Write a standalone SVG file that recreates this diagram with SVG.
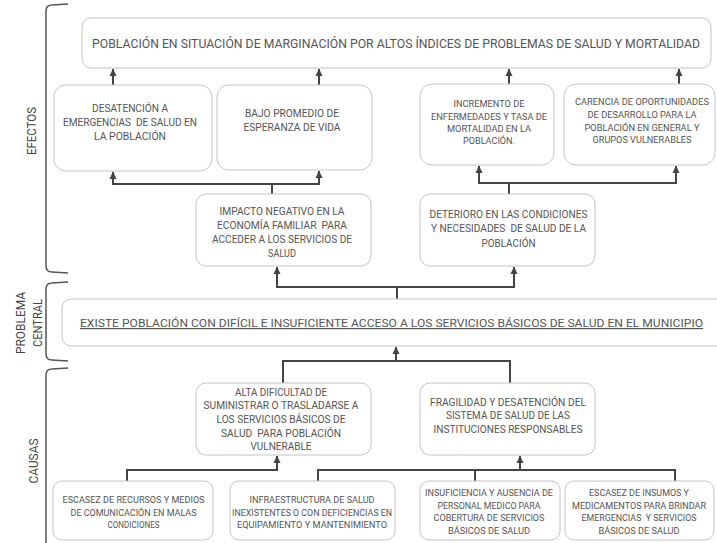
<svg xmlns="http://www.w3.org/2000/svg" width="717" height="543" viewBox="0 0 717 543">
<style>
.box{fill:#fff;stroke:#c4c4c4;stroke-width:1}
.t{font-family:Roboto,"Liberation Sans",sans-serif;font-weight:400;fill:#555;text-anchor:middle;font-size:10.3px}
.s{font-size:9.8px}
.big{font-size:12.2px}
.lab{font-family:Roboto,"Liberation Sans",sans-serif;font-weight:400;fill:#444;text-anchor:middle;font-size:12.5px}
.br{fill:none;stroke:#555;stroke-width:1.5}
.con{fill:none;stroke:#444;stroke-width:2}
.arr{fill:none;stroke:#444;stroke-width:2;marker-end:url(#ah)}
</style>
<defs>
<marker id="ah" markerUnits="userSpaceOnUse" markerWidth="8" markerHeight="8" refX="7" refY="4" orient="auto">
<path d="M0,0.5 L7.5,4 L0,7.5 z" fill="#444"/>
</marker>
</defs>
<rect width="717" height="543" fill="#fff"/>

<g id="brackets">
<path class="br" d="M68 4 L52 5 Q46 5 46 11 L46 266 Q46 272 52 272 L68 273"/>
<path class="br" d="M68 282 L52 283 Q46 283 46 289 L46 354 Q46 360 52 360 L68 361"/>
<path class="br" d="M68 368 L52 369 Q46 369 46 375 L46 545"/>
<text class="lab" transform="translate(36,131) rotate(-90)" textLength="48" lengthAdjust="spacingAndGlyphs">EFECTOS</text>
<text class="lab" transform="translate(25,323) rotate(-90)" textLength="62" lengthAdjust="spacingAndGlyphs">PROBLEMA</text>
<text class="lab" transform="translate(42,323) rotate(-90)" textLength="48" lengthAdjust="spacingAndGlyphs">CENTRAL</text>
<text class="lab" transform="translate(38,461) rotate(-90)" textLength="45" lengthAdjust="spacingAndGlyphs">CAUSAS</text>
</g>

<g id="connectors">
<path class="arr" d="M113 85 V69"/>
<path class="arr" d="M319 85 V69"/>
<path class="arr" d="M509 84 V69"/>
<path class="arr" d="M679 84 V69"/>
<path class="con" d="M272 194 V184 M113 184 H319"/>
<path class="arr" d="M113 185 V172"/>
<path class="arr" d="M319 185 V171"/>
<path class="con" d="M509 194 V183 M479 183 H676"/>
<path class="arr" d="M479 184 V166"/>
<path class="arr" d="M676 184 V166"/>
<path class="con" d="M397 299 V287 M277 287 H514"/>
<path class="arr" d="M277 288 V267"/>
<path class="arr" d="M514 288 V267"/>
<path class="con" d="M283 383 V361 H510 V383"/>
<path class="arr" d="M396 361 V347"/>
<path class="con" d="M127 481 V470 H277"/>
<path class="arr" d="M277 471 V456"/>
<path class="con" d="M318 481 V470 H675 V481 M475 470 V481"/>
<path class="arr" d="M520 471 V456"/>
</g>

<g id="n-top">
<rect class="box" x="82" y="18" width="629" height="50" rx="9"/>
<text class="t big" x="396" y="48" textLength="608" lengthAdjust="spacingAndGlyphs">POBLACIÓN EN SITUACIÓN DE MARGINACIÓN POR ALTOS ÍNDICES DE PROBLEMAS DE SALUD Y MORTALIDAD</text>
</g>

<g id="n-desatencion">
<rect class="box" x="54" y="85" width="158" height="86" rx="12"/>
<text class="t" xml:space="preserve"><tspan x="130" y="112" textLength="76" lengthAdjust="spacingAndGlyphs">DESATENCIÓN A</tspan><tspan x="130" y="126" textLength="134" lengthAdjust="spacingAndGlyphs">EMERGENCIAS  DE SALUD EN</tspan><tspan x="130" y="140" textLength="72" lengthAdjust="spacingAndGlyphs">LA POBLACIÓN</tspan></text>
</g>

<g id="n-bajo">
<rect class="box" x="217" y="85" width="155" height="85" rx="12"/>
<text class="t"><tspan x="292" y="117" textLength="94" lengthAdjust="spacingAndGlyphs">BAJO PROMEDIO DE</tspan><tspan x="292" y="131" textLength="97" lengthAdjust="spacingAndGlyphs">ESPERANZA DE VIDA</tspan></text>
</g>

<g id="n-incremento">
<rect class="box" x="420" y="84" width="134" height="81" rx="12"/>
<text class="t s"><tspan x="489" y="107" textLength="71" lengthAdjust="spacingAndGlyphs">INCREMENTO DE</tspan><tspan x="489" y="120" textLength="116" lengthAdjust="spacingAndGlyphs">ENFERMEDADES Y TASA DE</tspan><tspan x="489" y="132" textLength="84" lengthAdjust="spacingAndGlyphs">MORTALIDAD EN LA</tspan><tspan x="489" y="144" textLength="52" lengthAdjust="spacingAndGlyphs">POBLACIÓN.</tspan></text>
</g>

<g id="n-carencia">
<rect class="box" x="564" y="84" width="151" height="81" rx="12"/>
<text class="t s"><tspan x="642" y="105" textLength="134" lengthAdjust="spacingAndGlyphs">CARENCIA DE OPORTUNIDADES</tspan><tspan x="642" y="118" textLength="109" lengthAdjust="spacingAndGlyphs">DE DESARROLLO PARA LA</tspan><tspan x="642" y="131" textLength="115" lengthAdjust="spacingAndGlyphs">POBLACIÓN EN GENERAL Y</tspan><tspan x="642" y="143" textLength="99" lengthAdjust="spacingAndGlyphs">GRUPOS VULNERABLES</tspan></text>
</g>

<g id="n-impacto">
<rect class="box" x="196" y="194" width="175" height="72" rx="10"/>
<text class="t" xml:space="preserve"><tspan x="282" y="215" textLength="125" lengthAdjust="spacingAndGlyphs">IMPACTO NEGATIVO EN LA</tspan><tspan x="282" y="229" textLength="130" lengthAdjust="spacingAndGlyphs">ECONOMÍA FAMILIAR  PARA</tspan><tspan x="282" y="243" textLength="140" lengthAdjust="spacingAndGlyphs">ACCEDER A LOS SERVICIOS DE</tspan><tspan x="282" y="257" textLength="28" lengthAdjust="spacingAndGlyphs">SALUD</tspan></text>
</g>

<g id="n-deterioro">
<rect class="box" x="420" y="194" width="175" height="72" rx="10"/>
<text class="t" xml:space="preserve"><tspan x="508.5" y="218" textLength="158" lengthAdjust="spacingAndGlyphs">DETERIORO EN LAS CONDICIONES</tspan><tspan x="508.5" y="232" textLength="155" lengthAdjust="spacingAndGlyphs">Y NECESIDADES  DE SALUD DE LA</tspan><tspan x="508.5" y="247" textLength="54" lengthAdjust="spacingAndGlyphs">POBLACIÓN</tspan></text>
</g>

<g id="n-central">
<path class="box" d="M717 299 H72 Q62 299 62 309 V336 Q62 346 72 346 H717"/>
<text class="t" x="391.5" y="327" style="font-size:11.8px;text-decoration:underline" textLength="623" lengthAdjust="spacingAndGlyphs">EXISTE POBLACIÓN CON DIFÍCIL E INSUFICIENTE ACCESO A LOS SERVICIOS BÁSICOS DE SALUD EN EL MUNICIPIO</text>
</g>

<g id="n-alta">
<rect class="box" x="196" y="383" width="175" height="72" rx="10"/>
<text class="t" xml:space="preserve"><tspan x="281" y="396" textLength="92" lengthAdjust="spacingAndGlyphs">ALTA DIFICULTAD DE</tspan><tspan x="281" y="409" textLength="155" lengthAdjust="spacingAndGlyphs">SUMINISTRAR O TRASLADARSE A</tspan><tspan x="281" y="423" textLength="129" lengthAdjust="spacingAndGlyphs">LOS SERVICIOS BÁSICOS DE</tspan><tspan x="281" y="437" textLength="120" lengthAdjust="spacingAndGlyphs">SALUD  PARA POBLACIÓN</tspan><tspan x="281" y="450" textLength="61" lengthAdjust="spacingAndGlyphs">VULNERABLE</tspan></text>
</g>

<g id="n-fragilidad">
<rect class="box" x="420" y="383" width="175" height="72" rx="10"/>
<text class="t"><tspan x="508" y="406" textLength="156" lengthAdjust="spacingAndGlyphs">FRAGILIDAD Y DESATENCIÓN DEL</tspan><tspan x="508" y="419" textLength="124" lengthAdjust="spacingAndGlyphs">SISTEMA DE SALUD DE LAS</tspan><tspan x="508" y="433" textLength="149" lengthAdjust="spacingAndGlyphs">INSTITUCIONES RESPONSABLES</tspan></text>
</g>

<g id="n-escasez-recursos">
<rect class="box" x="53" y="481" width="160" height="59" rx="9"/>
<text class="t s"><tspan x="133.5" y="503" textLength="142" lengthAdjust="spacingAndGlyphs">ESCASEZ DE RECURSOS Y MEDIOS</tspan><tspan x="133.5" y="516" textLength="126" lengthAdjust="spacingAndGlyphs">DE COMUNICACIÓN EN MALAS</tspan><tspan x="133.5" y="528" textLength="52" lengthAdjust="spacingAndGlyphs">CONDICIONES</tspan></text>
</g>

<g id="n-infraestructura">
<rect class="box" x="230" y="481" width="165" height="59" rx="9"/>
<text class="t s"><tspan x="312" y="503" textLength="125" lengthAdjust="spacingAndGlyphs">INFRAESTRUCTURA DE SALUD</tspan><tspan x="312" y="516" textLength="160" lengthAdjust="spacingAndGlyphs">INEXISTENTES O CON DEFICIENCIAS EN</tspan><tspan x="312" y="528" textLength="150" lengthAdjust="spacingAndGlyphs">EQUIPAMIENTO Y MANTENIMIENTO</tspan></text>
</g>

<g id="n-insuficiencia">
<rect class="box" x="420" y="481" width="140" height="59" rx="9"/>
<text class="t s"><tspan x="489" y="496" textLength="128" lengthAdjust="spacingAndGlyphs">INSUFICIENCIA Y AUSENCIA DE</tspan><tspan x="489" y="509" textLength="103" lengthAdjust="spacingAndGlyphs">PERSONAL MEDICO PARA</tspan><tspan x="489" y="521" textLength="111" lengthAdjust="spacingAndGlyphs">COBERTURA DE SERVICIOS</tspan><tspan x="489" y="534" textLength="82" lengthAdjust="spacingAndGlyphs">BÁSICOS DE SALUD</tspan></text>
</g>

<g id="n-escasez-insumos">
<rect class="box" x="565" y="481" width="149" height="59" rx="9"/>
<text class="t s" xml:space="preserve"><tspan x="639" y="496" textLength="100" lengthAdjust="spacingAndGlyphs">ESCASEZ DE INSUMOS Y</tspan><tspan x="639" y="509" textLength="134" lengthAdjust="spacingAndGlyphs">MEDICAMENTOS PARA BRINDAR</tspan><tspan x="639" y="521" textLength="115" lengthAdjust="spacingAndGlyphs">EMERGENCIAS  Y SERVICIOS</tspan><tspan x="639" y="534" textLength="81" lengthAdjust="spacingAndGlyphs">BÁSICOS DE SALUD</tspan></text>
</g>
</svg>
